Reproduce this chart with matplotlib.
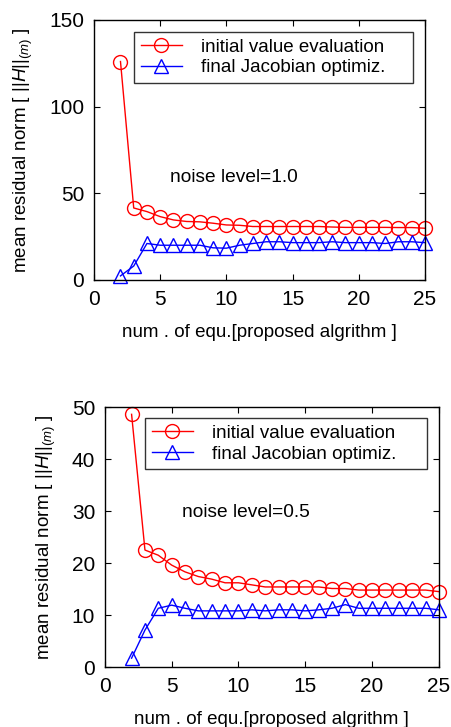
import matplotlib
matplotlib.use("Agg")
import matplotlib.pyplot as plt

plt.rcParams['font.family'] = ['Liberation Sans', 'DejaVu Sans']
plt.rcParams['mathtext.fontset'] = 'custom'
plt.rcParams['mathtext.rm'] = 'Liberation Sans'
plt.rcParams['mathtext.it'] = 'Liberation Sans:italic'

x_equ = list(range(2, 26))

init_n10 = [126, 41.5, 39.4, 36.5, 34.6, 33.7, 33.5, 32.7, 31.7, 31.5, 30.8, 30.8,
            30.8, 30.8, 30.8, 30.8, 30.5, 30.3, 30.3, 30.3, 30.3, 30.2, 30.2, 29.8]
final_n10 = [2.3, 8.0, 21.0, 20.0, 20.0, 20.0, 20.0, 18.5, 18.3, 20.0, 21.0, 22.0,
             22.0, 21.5, 21.5, 21.5, 22.0, 21.5, 21.5, 21.5, 21.0, 22.0, 22.0, 21.5]

init_n05 = [48.6, 22.5, 21.5, 19.6, 18.3, 17.4, 16.9, 16.2, 16.2, 15.8, 15.4, 15.4,
            15.4, 15.4, 15.4, 15.1, 15.1, 14.8, 14.8, 14.8, 14.8, 14.8, 14.8, 14.5]
final_n05 = [1.7, 7.1, 11.3, 11.9, 11.3, 10.8, 10.8, 10.8, 10.8, 11.0, 10.8, 11.0,
             11.0, 10.8, 11.0, 11.3, 12.0, 11.3, 11.3, 11.3, 11.3, 11.3, 11.3, 11.0]

xticks = [0, 5, 10, 15, 20, 25]
yticks_top = [0, 50, 100, 150]
yticks_bot = [0, 10, 20, 30, 40, 50]

legend_labels = ['initial value evaluation', 'final Jacobian optimiz.']
xlabel = 'num . of equ.[proposed algrithm ]'
ylabel = r'mean residual norm [ $||\mathit{H}||_{(m)}$ ]'

fig = plt.figure(figsize=(4.52, 7.27), dpi=100)

def panel(rect, init, final, yticks, noise_text, text_xy, leg_box):
    ax = fig.add_axes(rect)
    ax.plot(x_equ, init, color='red', marker='o', markersize=10, markerfacecolor='none',
            markeredgewidth=1.0, linewidth=1.0, clip_on=False, label=legend_labels[0])
    ax.plot(x_equ, final, color='blue', marker='^', markersize=10, markerfacecolor='none',
            markeredgewidth=1.0, linewidth=1.0, clip_on=False, label=legend_labels[1])
    ax.set_xlim(0, 25)
    ax.set_ylim(yticks[0], yticks[-1])
    ax.set_xticks(xticks)
    ax.set_yticks(yticks)
    ax.tick_params(direction='in', top=True, right=True, labelsize=15, length=4, pad=7)
    for s in ax.spines.values():
        s.set_linewidth(1.0)
    ax.set_xlabel(xlabel, fontsize=13.5, labelpad=11)
    ax.set_ylabel(ylabel, fontsize=13.5, labelpad=10)
    leg = ax.legend(loc='upper left', bbox_to_anchor=leg_box, mode='expand',
                    fontsize=13.5, frameon=True, fancybox=False,
                    edgecolor='black', handlelength=2.2, borderaxespad=0.0,
                    labelspacing=0.2, borderpad=0.35, handletextpad=1.0)
    leg.get_frame().set_linewidth(1.0)
    ax.text(text_xy[0], text_xy[1], noise_text, transform=ax.transAxes, fontsize=13.8,
            va='center', ha='left')
    return ax

panel([0.208, 0.615, 0.732, 0.3576], init_n10, final_n10, yticks_top,
      'noise level=1.0', (0.23, 0.395), (0.121, 0.954 - 0.192, 0.843, 0.192))
panel([0.232, 0.0825, 0.739, 0.3576], init_n05, final_n05, yticks_bot,
      'noise level=0.5', (0.23, 0.595), (0.12, 0.958 - 0.192, 0.844, 0.192))

fig.savefig('out.png', dpi=100)
